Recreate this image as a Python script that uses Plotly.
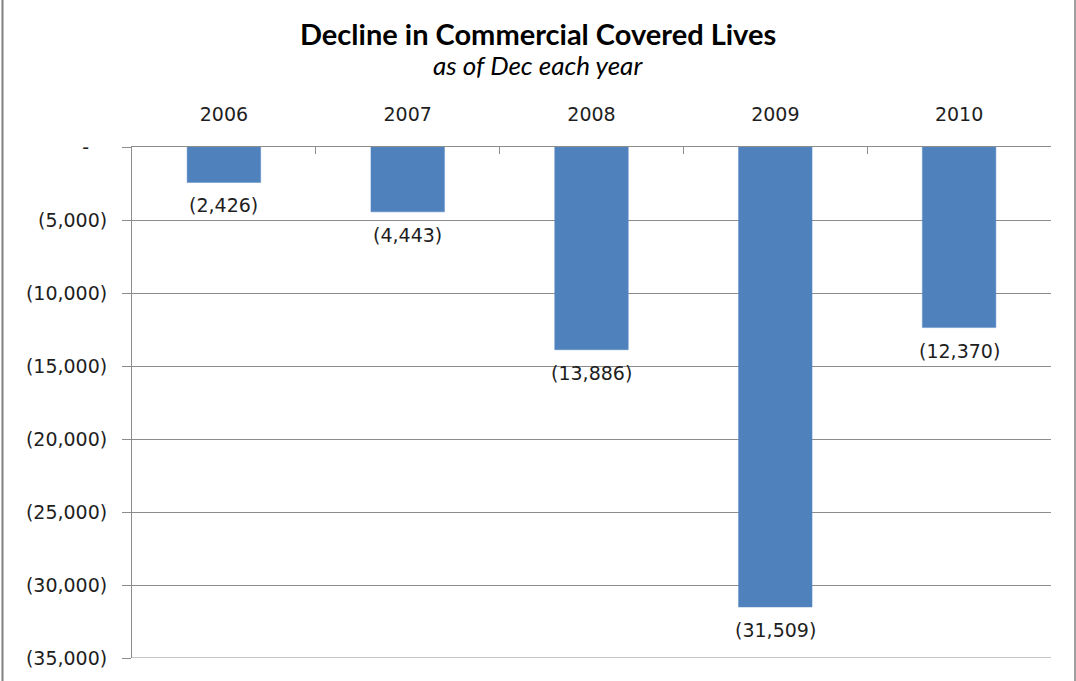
import plotly.graph_objects as go

# Year-end change in commercial covered lives
years = ["2006", "2007", "2008", "2009", "2010"]
declines = [-2426, -4443, -13886, -31509, -12370]

tick_values = [0, -5000, -10000, -15000, -20000, -25000, -30000, -35000]
tick_labels = ["-\u00a0\u00a0\u00a0", "(5,000)", "(10,000)", "(15,000)", "(20,000)",
               "(25,000)", "(30,000)", "(35,000)"]


def accounting(v):
    return f"({abs(v):,})" if v < 0 else f"{v:,}"


W, H = 1076, 681
L, R, T, B = 132, 25, 147, 19
plot_h = H - T - B
plot_w = W - L - R


def py(pixel_y):
    return (H - B - pixel_y) / plot_h


def px(pixel_x):
    return (pixel_x - L) / plot_w


grid = "#8c8c8c"
text_col = "#1e1e1e"
tick_font = dict(family="DejaVu Sans", size=19, color=text_col)

fig = go.Figure(
    go.Bar(
        x=years,
        y=declines,
        width=0.4,
        marker=dict(color="#4F81BD", line=dict(color="#5a8ac6", width=0.5)),
        hoverinfo="skip",
    )
)

# value labels hang below each bar end (x given as category index)
label_notes = [
    dict(x=i, y=v, xref="x", yref="y", text=accounting(v),
         xanchor="center", yanchor="top", yshift=-10, showarrow=False,
         font=tick_font)
    for i, v in enumerate(declines)
]

fig.update_layout(
    width=W,
    height=H,
    margin=dict(l=L, r=R, t=T, b=B, pad=0),
    paper_bgcolor="white",
    plot_bgcolor="white",
    showlegend=False,
    font=tick_font,
    xaxis=dict(
        side="top",
        type="category",
        tickson="boundaries",
        ticks="inside",
        ticklen=7,
        tickcolor=grid,
        showline=True,
        linecolor=grid,
        linewidth=1,
        showgrid=False,
        tickfont=tick_font,
        ticklabelstandoff=17,
        range=[-0.5, 4.5],
    ),
    yaxis=dict(
        range=[-35000, 0],
        tickvals=tick_values,
        ticktext=tick_labels,
        ticks="outside",
        ticklen=9,
        tickcolor=grid,
        showline=True,
        linecolor=grid,
        linewidth=1,
        showgrid=True,
        gridcolor=grid,
        gridwidth=1,
        zeroline=False,
        tickfont=tick_font,
        ticklabelstandoff=11,
    ),
    annotations=label_notes + [
        dict(
            text="<b>Decline in Commercial Covered Lives</b>",
            x=px(538), xref="paper", y=py(33), yref="paper",
            xanchor="center", yanchor="middle", showarrow=False,
            font=dict(family="Lato", size=29, color="#000000"),
        ),
        dict(
            text="<i>as of Dec each year</i>",
            x=px(538), xref="paper", y=py(64), yref="paper",
            xanchor="center", yanchor="middle", showarrow=False,
            font=dict(family="Lato", size=26, color="#000000"),
        ),
    ],
    shapes=[
        dict(type="line", xref="paper", yref="y",
             x0=0, x1=1, y0=-35000, y1=-35000,
             line=dict(color=grid, width=1)),
        dict(type="line", xref="paper", yref="paper",
             x0=px(2.5), x1=px(2.5), y0=py(-5), y1=py(H + 5),
             line=dict(color="#808080", width=2)),
        dict(type="line", xref="paper", yref="paper",
             x0=px(1075), x1=px(1075), y0=py(-5), y1=py(H + 5),
             line=dict(color="#808080", width=1.5)),
    ],
)

fig.write_html("out.html")
